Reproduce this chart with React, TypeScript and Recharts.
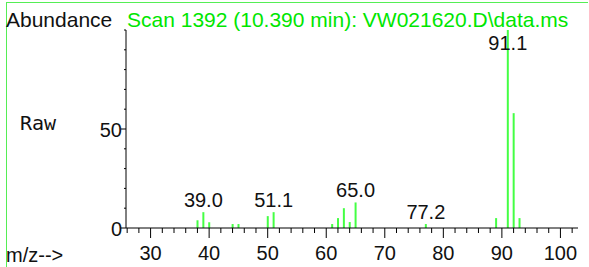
import React from "react";
import { BarChart, Bar, XAxis, YAxis, LabelList } from "recharts";

const MZ = [38, 39, 40, 44, 45, 50, 51, 61, 62, 63, 64, 65, 77, 89, 91, 92, 93];
const ABUNDANCE = [3.9, 8, 2.9, 2, 2, 6, 8, 2, 5, 10, 3, 12.9, 2, 5, 100, 58, 5];
const PEAK_LABELS = ["", "39.0", "", "", "", "", "51.1", "", "", "", "", "65.0", "77.2", "", "91.1", "", ""];

const X_TICKS = [26, 28, 30, 32, 34, 36, 38, 40, 42, 44, 46, 48, 50, 52, 54, 56, 58, 60, 62, 64, 66, 68, 70, 72, 74, 76, 78, 80, 82, 84, 86, 88, 90, 92, 94, 96, 98, 100, 102];
const Y_TICKS = [0, 10, 20, 30, 40, 50, 60, 70, 80, 90, 100];
const X_LABELED = [30, 40, 50, 60, 70, 80, 90, 100];
const Y_LABELED = [0, 50];

const TITLE = "Scan 1392 (10.390 min): VW021620.D\\data.ms";

const data = MZ.map((mz, i) => ({ mz, abundance: ABUNDANCE[i], label: PEAK_LABELS[i] }));

const FONT = "'Liberation Sans', Arial, sans-serif";
const GREEN = "#00e600";
const PEAK = "#44ff44";

const XTick = (props: any) => {
  const { x, y, payload } = props;
  const major = X_LABELED.includes(payload.value);
  return (
    <g>
      <line x1={x} x2={x} y1={y} y2={y + (major ? 10 : 5)} stroke="#000" strokeWidth={1} />
      {major && (
        <text x={x} y={y + 32} textAnchor="middle" fontFamily={FONT} fontSize={20} fill="#111">
          {payload.value}
        </text>
      )}
    </g>
  );
};

const YTick = (props: any) => {
  const { x, y, payload } = props;
  const major = Y_LABELED.includes(payload.value);
  return (
    <g>
      <line x1={x} x2={x - (major ? 5 : 2)} y1={y} y2={y} stroke="#000" strokeWidth={1} />
      {major && (
        <text x={x - 4} y={y + 8} textAnchor="end" fontFamily={FONT} fontSize={20} fill="#111">
          {payload.value}
        </text>
      )}
    </g>
  );
};

// peak labels sit above the line, but never climb into the title row
const PeakLabel = (props: any) => {
  const { x, y, width, value } = props;
  if (!value) return null;
  const base = Math.max(y - 5, 50);
  return (
    <text x={x + width / 2} y={base} textAnchor="middle" fontFamily={FONT} fontSize={20} fill="#111">
      {value}
    </text>
  );
};

export default function App() {
  return (
    <div style={{ position: "absolute", left: 0, top: 0, width: 589, height: 267 }}>
      <BarChart width={589} height={267} data={data} margin={{ top: 30, right: 11, bottom: 0, left: 6 }}>
        <XAxis
          dataKey="mz"
          type="number"
          domain={[25.8, 103]}
          allowDataOverflow
          ticks={X_TICKS}
          interval={0}
          tick={<XTick />}
          tickLine={false}
          tickSize={0}
          tickMargin={0}
          height={39}
          axisLine={{ stroke: "#000" }}
        />
        <YAxis
          type="number"
          domain={[0, 100]}
          ticks={Y_TICKS}
          interval={0}
          tick={<YTick />}
          tickLine={false}
          tickSize={0}
          tickMargin={0}
          width={120}
          axisLine={{ stroke: "#000" }}
        />
        <Bar dataKey="abundance" fill={PEAK} barSize={2} isAnimationActive={false}>
          <LabelList dataKey="label" content={<PeakLabel />} />
        </Bar>
      </BarChart>
      <svg width={589} height={267} style={{ position: "absolute", left: 0, top: 0, pointerEvents: "none" }}>
        <line x1={6.5} x2={6.5} y1={2} y2={267} stroke="#55ee55" strokeWidth={1} />
        <line x1={6} x2={588} y1={2.5} y2={2.5} stroke="#55ee55" strokeWidth={1} />
        <text x={6} y={27} fontFamily={FONT} fontSize={21} fill="#111">Abundance</text>
        <text x={127} y={27} fontFamily={FONT} fontSize={21} fill={GREEN}>{TITLE}</text>
        <text x={20} y={130} fontFamily="'DejaVu Sans Mono', monospace" fontSize={20} fill="#111">Raw</text>
        <text x={6} y={262} fontFamily={FONT} fontSize={20} fill="#111">m/z--&gt;</text>
      </svg>
    </div>
  );
}
